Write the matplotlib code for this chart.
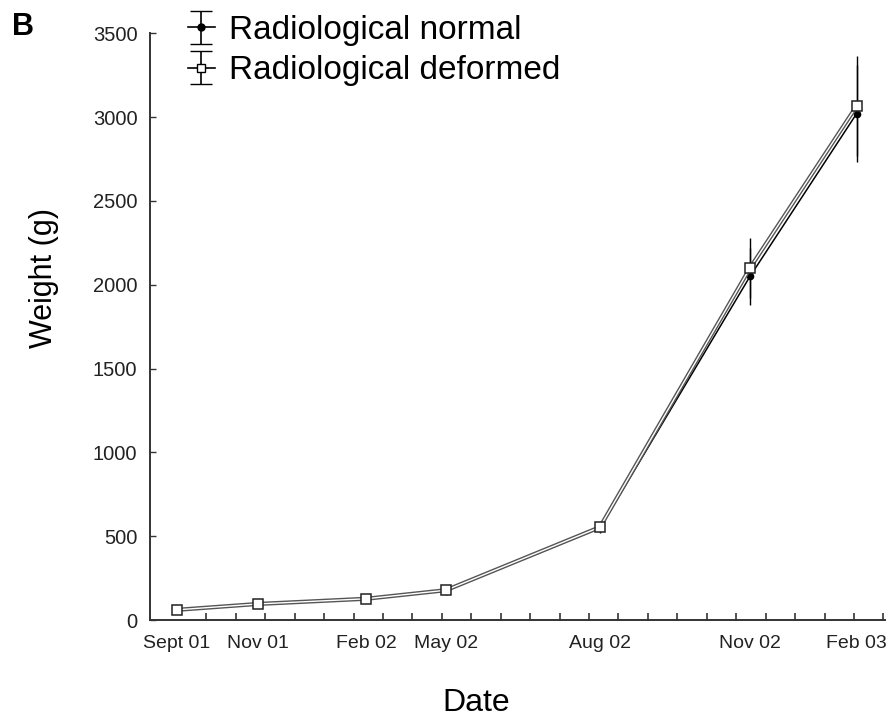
import matplotlib
matplotlib.use("Agg")
import matplotlib.pyplot as plt
import matplotlib.patheffects as pe

plt.rcParams['font.family'] = ['Liberation Sans', 'DejaVu Sans']

# x positions in axis tick units (one minor tick per unit)
x_pos = [0.0, 2.75, 6.43, 9.14, 14.37, 19.47, 23.09]
date_labels = ['Sept 01', 'Nov 01', 'Feb 02', 'May 02', 'Aug 02', 'Nov 02', 'Feb 03']

normal = [60, 95, 126, 176, 548, 2050, 3020]
normal_err = [8, 10, 12, 15, 30, 170, 290]
deformed = [61, 96, 127, 178, 554, 2100, 3065]
deformed_err = [8, 10, 12, 15, 30, 180, 300]

fig = plt.figure(figsize=(8.92, 7.21), dpi=100)
ax = fig.add_axes([0.168, 0.140, 0.824, 0.814])

# error bars (thin, no caps)
ax.errorbar(x_pos, deformed, yerr=deformed_err, fmt='none', ecolor='black',
            elinewidth=1.0, capsize=0, zorder=1)
ax.errorbar(x_pos, normal, yerr=normal_err, fmt='none', ecolor='black',
            elinewidth=1.0, capsize=0, zorder=1)

# normal: small filled dots
ax.plot(x_pos, normal, color='black', lw=1.1, marker='o', ms=4.5,
        mfc='black', mec='black', zorder=2)
# deformed: hollow-looking line with open squares
ax.plot(x_pos, deformed, color='white', lw=1.0, zorder=3,
        path_effects=[pe.Stroke(linewidth=3.0, foreground='#555555'), pe.Normal()])
ax.plot(x_pos, deformed, ls='none', marker='s', ms=7, mfc='white', mec='#222222',
        mew=1.1, zorder=4)

# proxies for the legend (with caps), drawn outside the view
h1 = ax.errorbar([-50], [0], yerr=[1], color='black', lw=1.2, ecolor='black',
                 elinewidth=1.2, capsize=8, marker='o', ms=5, mfc='black', mec='black')
h2 = ax.errorbar([-50], [0], yerr=[1], color='black', lw=1.2, ecolor='black',
                 elinewidth=1.2, capsize=8, marker='s', ms=6, mfc='white', mec='black')

ax.set_xlim(-0.92, 24.05)
ax.set_ylim(0, 3500)
ax.set_yticks(range(0, 3501, 500))

ax.set_xticks(x_pos)
ax.set_xticklabels(date_labels)
ax.set_xticks(range(0, 25), minor=True)
ax.tick_params(axis='x', which='major', length=0, pad=11, labelsize=14, labelcolor='#222222')
ax.tick_params(axis='x', which='minor', direction='in', length=5, width=1.2, color='#333333')
ax.tick_params(axis='y', direction='in', length=4, width=1.0, pad=9, labelsize=14.5,
               labelcolor='#222222', color='#333333')

for s in ['top', 'right']:
    ax.spines[s].set_visible(False)
for s in ['left', 'bottom']:
    ax.spines[s].set_linewidth(1.4)
    ax.spines[s].set_color('#333333')

fig.text(0.049, 0.614, 'Weight (g)', rotation=90, fontsize=22, ha='center', va='center')
fig.text(0.534, 0.025, 'Date', fontsize=23, ha='center', va='center')
fig.text(0.013, 0.962, 'B', fontsize=22, fontweight='bold', ha='left', va='center')

fig.legend([h1, h2], ['Radiological normal', 'Radiological deformed'],
           loc='upper left', bbox_to_anchor=(0.205, 0.986), frameon=False,
           fontsize=24, handlelength=0.8, handletextpad=0.42, labelspacing=0.28,
           borderpad=0.15, borderaxespad=0)

fig.savefig('out.png', dpi=100)
